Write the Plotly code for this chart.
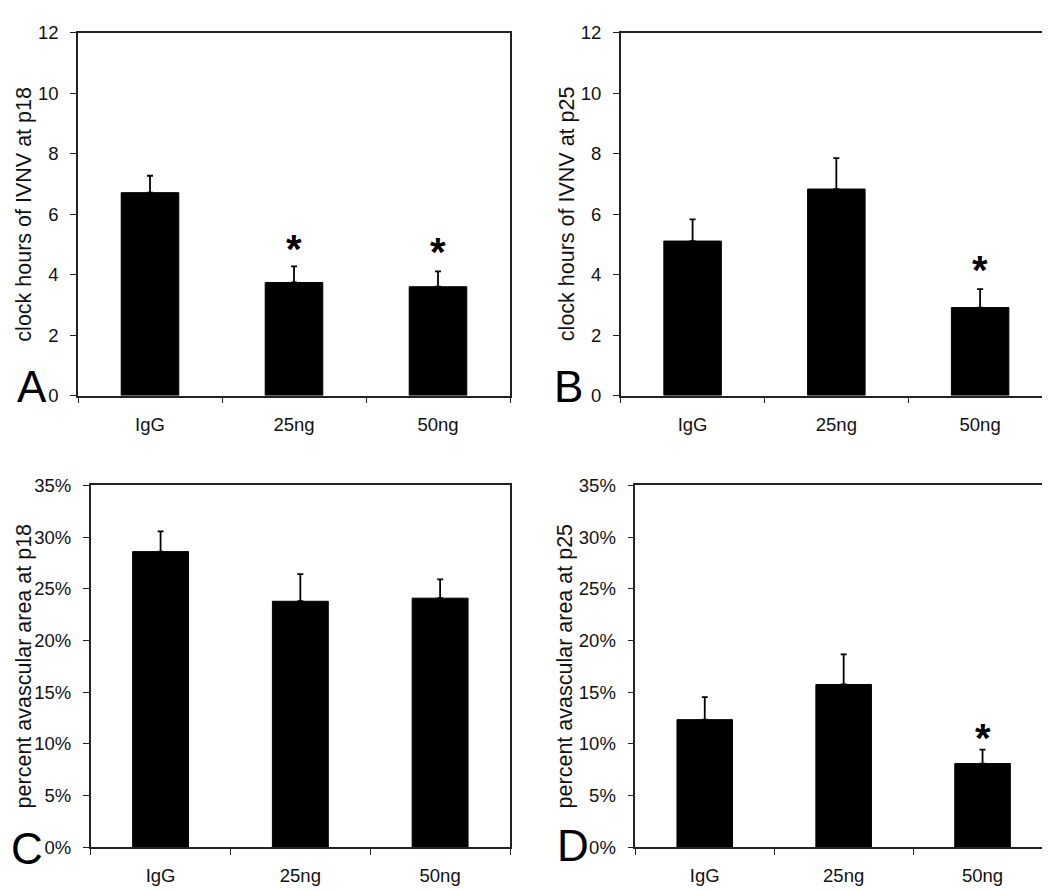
import plotly.graph_objects as go

# ---------------- data ----------------
categories = ["IgG", "25ng", "50ng"]

a_vals = [6.71, 3.74, 3.60]
a_err = [0.56, 0.53, 0.51]
a_sig = [None, 5.09, 4.98]

b_vals = [5.11, 6.83, 2.91]
b_err = [0.72, 1.02, 0.61]
b_sig = [None, None, 4.38]

c_vals = [28.6, 23.8, 24.1]
c_err = [1.95, 2.62, 1.82]
c_sig = [None, None, None]

d_vals = [12.35, 15.75, 8.1]
d_err = [2.18, 2.92, 1.34]
d_sig = [None, None, 11.26]

titles = ["clock hours of IVNV at p18", "clock hours of IVNV at p25",
          "percent avascular area at p18", "percent avascular area at p25"]
letters = ["A", "B", "C", "D"]

# ---------------- layout geometry (pixels) ----------------
W, H = 1050, 892
FONT = "Liberation Sans, Arial, sans-serif"
TXT = "#111111"

panels = [
    dict(vals=a_vals, err=a_err, sig=a_sig, x0=70, x1=502, y0=14, y1=385.7,
         yr=[0, 12], dtick=2, suffix="", tx=16.5, lx=7, ly=376),
    dict(vals=b_vals, err=b_err, sig=b_sig, x0=612.7, x1=1044, y0=14, y1=385.7,
         yr=[0, 12], dtick=2, suffix="", tx=559, lx=544, ly=376),
    dict(vals=c_vals, err=c_err, sig=c_sig, x0=82.7, x1=502, y0=477.7, y1=848.3,
         yr=[0, 35], dtick=5, suffix="%", tx=16, lx=1, ly=849),
    dict(vals=d_vals, err=d_err, sig=d_sig, x0=627.3, x1=1044, y0=477.7, y1=848.3,
         yr=[0, 35], dtick=5, suffix="%", tx=557, lx=547, ly=846),
]

fig = go.Figure()
layout = dict(
    width=W, height=H,
    margin=dict(l=0, r=0, t=0, b=0),
    paper_bgcolor="white", plot_bgcolor="white",
    showlegend=False, bargap=0.6,
    font=dict(family=FONT, color=TXT, size=18),
)
annotations = []

for i, p in enumerate(panels):
    n = "" if i == 0 else str(i + 1)
    xa, ya = "x" + n, "y" + n
    fig.add_trace(go.Bar(
        x=categories, y=p["vals"], xaxis=xa, yaxis=ya,
        marker=dict(color="black", line=dict(color="black", width=1)),
        error_y=dict(type="data", symmetric=False, array=p["err"],
                     arrayminus=[0] * len(p["err"]),
                     color="black", thickness=1.8, width=3),
        hoverinfo="skip",
    ))
    layout["xaxis" + n] = dict(
        domain=[p["x0"] / W, p["x1"] / W], anchor=ya,
        type="category", range=[-0.5, 2.5],
        showline=True, linecolor="#222222", linewidth=1.5, mirror=True,
        ticks="outside", tickson="boundaries", ticklen=6, tickwidth=1.2,
        tickcolor="#222222", showgrid=False, zeroline=False,
        tickfont=dict(family=FONT, size=18.5, color=TXT),
        ticklabelstandoff=11,
    )
    layout["yaxis" + n] = dict(
        domain=[1 - p["y1"] / H, 1 - p["y0"] / H], anchor=xa,
        range=p["yr"], dtick=p["dtick"], tick0=0, ticksuffix=p["suffix"],
        showline=True, linecolor="#222222", linewidth=1.5, mirror=True,
        ticks="outside", ticklen=6, tickwidth=1.2, tickcolor="#222222",
        showgrid=False, zeroline=False,
        tickfont=dict(family=FONT, size=18.5, color=TXT),
        ticklabelstandoff=8,
    )
    # axis title
    annotations.append(dict(
        text=titles[i], xref="paper", yref="paper",
        x=p["tx"] / W, y=1 - (p["y0"] + p["y1"]) / 2 / H,
        xanchor="center", yanchor="middle", textangle=-90, showarrow=False,
        font=dict(family=FONT, size=21.5, color=TXT),
    ))
    # panel letter
    annotations.append(dict(
        text=letters[i], xref="paper", yref="paper",
        x=p["lx"] / W, y=1 - p["ly"] / H,
        xanchor="left", yanchor="middle", showarrow=False,
        font=dict(family=FONT, size=44, color="black"),
    ))
    # significance markers
    for c, s in zip(categories, p["sig"]):
        if s is not None:
            annotations.append(dict(
                text="<b>*</b>", xref=xa, yref=ya, x=c, y=s,
                xanchor="center", yanchor="middle", yshift=-7,
                showarrow=False,
                font=dict(family=FONT, size=40, color="black"),
            ))

layout["annotations"] = annotations
fig.update_layout(**layout)
fig.write_html("out.html")
